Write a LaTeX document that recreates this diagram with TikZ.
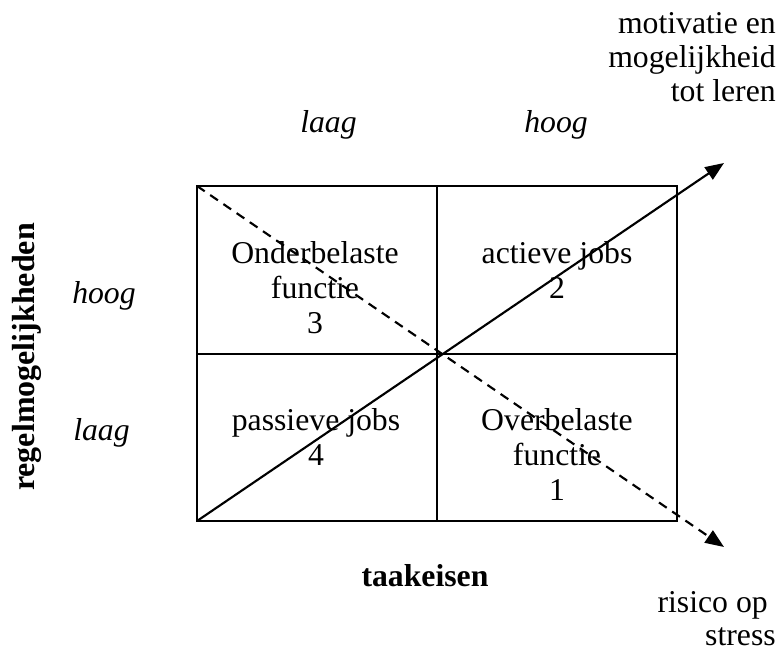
\documentclass[tikz,border=0pt]{standalone}
\usepackage{fontspec}
\setmainfont{Liberation Serif}
\usetikzlibrary{arrows.meta}
\begin{document}
\begin{tikzpicture}[x=0.75pt,y=-0.75pt,
  txt/.style={inner sep=0pt,font=\fontsize{23.8}{26}\selectfont},
  ctxt/.style={txt,anchor=base},
  rtxt/.style={txt,anchor=base east},
  ltxt/.style={txt,anchor=base west},
  gridline/.style={line width=1.6pt,line cap=rect},
  arr/.style={line width=1.6pt,-{Triangle[length=14pt,width=11pt]}},
  darr/.style={arr,dash pattern=on 7pt off 5pt}]
\useasboundingbox (0,0) rectangle (783,650);
% grid
\coordinate (tl) at (197,186);
\coordinate (tr) at (677,186);
\coordinate (bl) at (197,521);
\coordinate (br) at (677,521);
\coordinate (mt) at (437,186);
\coordinate (mb) at (437,521);
\coordinate (ml) at (197,354);
\coordinate (mr) at (677,354);
\coordinate (solidend) at (724,163);
\coordinate (dashend) at (724,547);
\draw[gridline] (tl) -- (tr) -- (br) -- (bl) -- cycle;
\draw[gridline] (mt) -- (mb);
\draw[gridline] (ml) -- (mr);
% quadrant texts
\node[ctxt] (q3a) at (315,263) {Onderbelaste};
\node[ctxt] (q3b) at (315,298) {functie};
\node[ctxt] (q3c) at (315,333) {3};
\node[ctxt] (q2a) at (557,263) {actieve jobs};
\node[ctxt] (q2b) at (557,298) {2};
\node[ctxt] (q4a) at (316,430) {passieve jobs};
\node[ctxt] (q4b) at (316,465) {4};
\node[ctxt] (q1a) at (557,430) {Overbelaste};
\node[ctxt] (q1b) at (557,465) {functie};
\node[ctxt] (q1c) at (557,500) {1};
% arrows
\draw[arr] (bl) -- (solidend);
\draw[darr] (tl) -- (dashend);
% axis labels
\node[ltxt,font=\fontsize{23.8}{26}\selectfont\itshape] (tlaag) at (300,132) {laag};
\node[ltxt,font=\fontsize{23.8}{26}\selectfont\itshape] (thoog) at (524,132) {hoog};
\node[ltxt,font=\fontsize{23.8}{26}\selectfont\itshape] (lhoog) at (72,303) {hoog};
\node[ltxt,font=\fontsize{23.8}{26}\selectfont\itshape] (llaag) at (73,440) {laag};
\node[ctxt,font=\fontsize{23.8}{26}\selectfont\bfseries] (taak) at (425,586) {taakeisen};
\node[txt,font=\fontsize{24}{26}\selectfont\bfseries,rotate=90,anchor=base] (regel) at (35,357) {regelmogelijkheden};
% corner texts
\node[rtxt] (mot1) at (776,33) {motivatie en};
\node[rtxt] (mot2) at (776,67) {mogelijkheid};
\node[rtxt] (mot3) at (776,101) {tot leren};
\node[rtxt] (ris1) at (768,612) {risico op};
\node[rtxt] (ris2) at (776,645) {stress};
\end{tikzpicture}
\end{document}
